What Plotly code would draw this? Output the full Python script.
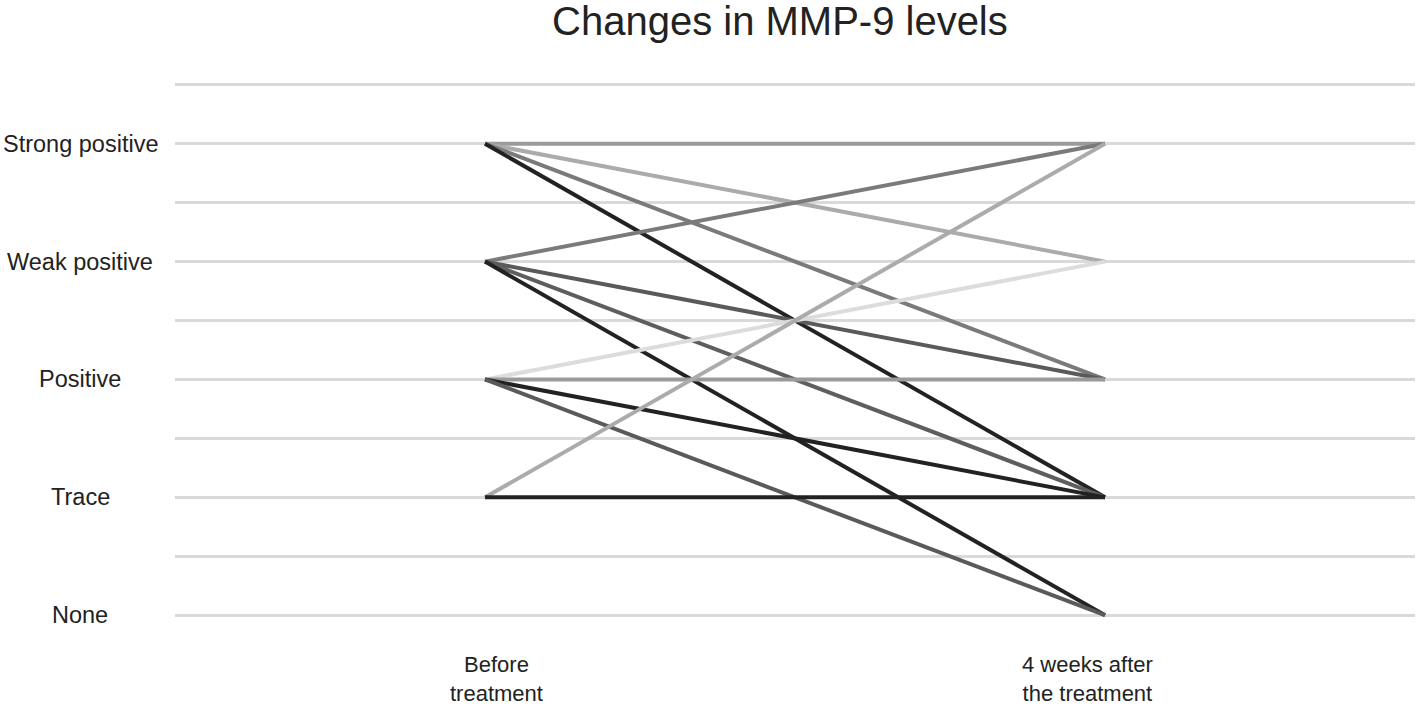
import plotly.graph_objects as go

# Ordinal levels (0 = None ... 4 = Strong positive)
level_labels = ["None", "Trace", "Positive", "Weak positive", "Strong positive"]
time_labels = ["Before<br>treatment", "4 weeks after<br>the treatment"]
time_keys = ["before", "after"]

# Each patient's level before and 4 weeks after treatment
before = [4, 4, 4, 4, 3, 3, 3, 3, 2, 2, 2, 2, 1, 1]
after = [4, 3, 2, 1, 4, 2, 1, 0, 3, 2, 1, 0, 4, 1]
line_colors = ["#9a9a9a", "#ababab", "#7a7a7a", "#222222",
               "#7a7a7a", "#5a5a5a", "#5e5e5e", "#222222",
               "#dcdcdc", "#9a9a9a", "#222222", "#5a5a5a",
               "#ababab", "#222222"]

fig = go.Figure()
for b, a, c in zip(before, after, line_colors):
    fig.add_trace(go.Scatter(x=time_keys, y=[b, a], mode="lines",
                             line=dict(color=c, width=4),
                             showlegend=False, hoverinfo="skip"))

font_family = "Liberation Sans, Arial, sans-serif"
annotations = []
for i, lab in enumerate(level_labels):
    annotations.append(dict(text=lab, x=-0.0766, xref="paper", y=i, yref="y",
                            xanchor="center", yanchor="middle", showarrow=False,
                            font=dict(size=23.5, color="#222222", family=font_family)))
shifts = [11, -18]
for k, lab, s in zip(time_keys, time_labels, shifts):
    annotations.append(dict(text=lab, x=k, xref="x", y=0.0, yref="paper",
                            yshift=-24, xshift=s, xanchor="center", yanchor="top",
                            showarrow=False, borderpad=0,
                            font=dict(size=22, color="#222222", family=font_family)))

fig.update_layout(
    width=1418, height=707,
    margin=dict(l=175, r=3, t=73, b=80),
    paper_bgcolor="white", plot_bgcolor="white",
    title=dict(text="Changes in MMP-9 levels", x=0.55, xanchor="center",
               y=0.99, yanchor="top",
               font=dict(size=40, color="#222222", family=font_family)),
    xaxis=dict(type="category", categoryorder="array", categoryarray=time_keys,
               range=[-0.5, 1.5], showgrid=False, zeroline=False,
               showticklabels=False, showline=False),
    yaxis=dict(range=[-0.1, 4.6], tick0=0, dtick=0.5, showgrid=True,
               gridcolor="#d9d9d9", gridwidth=3, zeroline=False,
               showticklabels=False, showline=False),
    annotations=annotations,
)
fig.write_html("out.html", config={"displayModeBar": False},
               post_script="document.body.style.margin='0px';document.body.style.overflow='hidden';")
